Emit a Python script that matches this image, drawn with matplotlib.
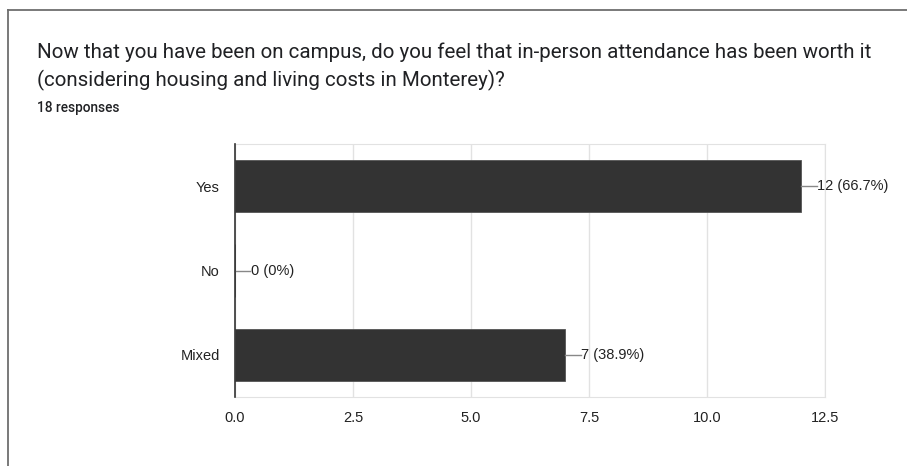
import matplotlib
matplotlib.use("Agg")
import matplotlib.pyplot as plt
from matplotlib.lines import Line2D

# survey answers
categories = ["Yes", "No", "Mixed"]
counts = [12, 0, 7]
percents = ["66.7%", "0%", "38.9%"]
x_ticks = [0.0, 2.5, 5.0, 7.5, 10.0, 12.5]

title = ("Now that you have been on campus, do you feel that in-person attendance has been worth it\n"
         "(considering housing and living costs in Monterey)?")
subtitle = "18 responses"

plt.rcParams['font.family'] = ['Liberation Sans', 'DejaVu Sans']

fig = plt.figure(figsize=(9.07, 4.66), dpi=100)
fig.patch.set_facecolor("white")

# card border (top and left)
fig.add_artist(Line2D([8 / 907, 1], [1 - 10 / 466, 1 - 10 / 466], color="#6e6e6e", lw=1.3))
fig.add_artist(Line2D([8 / 907, 8 / 907], [0, 1 - 10 / 466], color="#6e6e6e", lw=1.3))

fig.text(37 / 907, 1 - 52 / 466, title.split("\n")[0], fontsize=14.8, color="#202124",
         va="center", ha="left", family=["Roboto", "DejaVu Sans"])
fig.text(37 / 907, 1 - 80 / 466, title.split("\n")[1], fontsize=14.8, color="#202124",
         va="center", ha="left", family=["Roboto", "DejaVu Sans"])
fig.text(37 / 907, 1 - 108 / 466, subtitle, fontsize=9.8, color="#202124",
         va="center", ha="left", fontweight="medium", family=["Roboto", "DejaVu Sans"])

ax = fig.add_axes([235 / 907, 1 - 397 / 466, 590 / 907, 253 / 466])
ypos = list(range(len(categories)))
ax.barh(ypos, counts, height=0.62, color="#333333", edgecolor="#555555", lw=0.6, zorder=3)

for y, c, p in zip(ypos, counts, percents):
    ax.plot([c, c + 0.32], [y, y], color="#888888", lw=1, zorder=4, clip_on=False)
    ax.text(c + 0.33, y, f"{c} ({p})", va="center", ha="left", fontsize=10.5, color="#222222")

ax.set_xlim(0, 12.5)
ax.set_ylim(2.5, -0.5)
ax.set_yticks(ypos)
ax.set_yticklabels(categories)
ax.set_xticks(x_ticks)
ax.set_xticklabels([f"{t:.1f}" for t in x_ticks])
ax.tick_params(axis="both", length=0, labelsize=10.5, colors="#222222")
ax.tick_params(axis="y", pad=11)
ax.tick_params(axis="x", pad=10)
ax.grid(axis="x", color="#e2e2e2", lw=1, zorder=0)

for s in ["top", "bottom", "right"]:
    ax.spines[s].set_color("#e2e2e2")
ax.spines["left"].set_color("#333333")
ax.spines["left"].set_linewidth(1.2)
ax.spines["left"].set_zorder(5)

fig.savefig("out.png", dpi=100, facecolor="white")
